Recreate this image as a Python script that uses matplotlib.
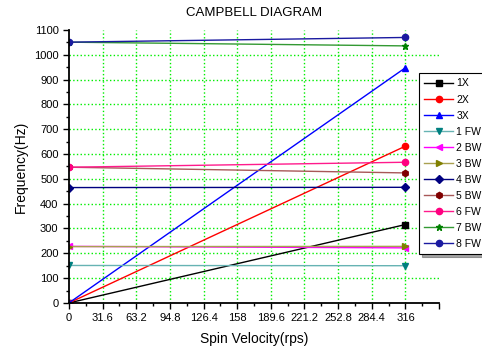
import numpy as np
import matplotlib
matplotlib.use('Agg')
import matplotlib.pyplot as plt

plt.rcParams['font.family'] = ['Liberation Sans', 'DejaVu Sans']

# Spin velocity (rps) end points
speed = [0, 316]

# Frequencies (Hz) at each end point
f_1x = [0, 316]
f_2x = [0, 632]
f_3x = [0, 948]
f_1fw = [151, 150]
f_2bw = [228, 222]
f_3bw = [227, 228]
f_4bw = [465, 466]
f_5bw = [547, 524]
f_6fw = [547, 567]
f_7bw = [1051, 1036]
f_8fw = [1051, 1070]

x_tick_labels = ["0", "31.6", "63.2", "94.8", "126.4", "158", "189.6",
                 "221.2", "252.8", "284.4", "316"]

series = [
    ("1X", f_1x, "black", "black", "s"),
    ("2X", f_2x, "red", "red", "o"),
    ("3X", f_3x, "blue", "blue", "^"),
    ("1 FW", f_1fw, "#66b3b3", "#008080", "v"),
    ("2 BW", f_2bw, "magenta", "magenta", "<"),
    ("3 BW", f_3bw, "#a9a050", "#808000", ">"),
    ("4 BW", f_4bw, "#000080", "#000080", "D"),
    ("5 BW", f_5bw, "#a85858", "#800000", "h"),
    ("6 FW", f_6fw, "#ff1a8c", "#ff0080", "o"),
    ("7 BW", f_7bw, "#339933", "#008000", "*"),
    ("8 FW", f_8fw, "#1a1aa0", "#1a1aa0", "o"),
]

fig = plt.figure(figsize=(4.82, 3.49), dpi=100)
ax = fig.add_axes([0.143, 0.132, 0.768, 0.782])

for name, vals, lc, mc, mk in series:
    ax.plot(speed, vals, color=lc, lw=1, marker=mk, markersize=4.5,
            markerfacecolor=mc, markeredgecolor=mc, label=name)

ax.set_xlim(0, 347.6)
ax.set_ylim(0, 1100)

xt = np.arange(len(x_tick_labels)) * 31.6
ax.set_xticks(list(xt) + [347.6])
ax.set_xticklabels(x_tick_labels + [""])
ax.set_xticks(np.arange(1, 22, 2) * 15.8, minor=True)
ax.set_yticks(np.arange(0, 1101, 100))
ax.set_yticks(np.arange(50, 1100, 100), minor=True)

ax.tick_params(axis='both', which='major', direction='out', length=4,
               width=1, labelsize=8, colors='black')
ax.tick_params(axis='both', which='minor', direction='out', length=2.5, width=1)

for s in ['top', 'right']:
    ax.spines[s].set_visible(False)
for s in ['left', 'bottom']:
    ax.spines[s].set_linewidth(1.3)

# grid lines (skip the axis end and top)
for x in xt[1:]:
    ax.axvline(x, color='#00ee00', ls=':', lw=1, zorder=0)
for y in np.arange(100, 1001, 100):
    ax.axhline(y, color='#00ee00', ls=':', lw=1, zorder=0)

ax.set_xlabel("Spin Velocity(rps)", fontsize=10, labelpad=6)
ax.set_ylabel("Frequency(Hz)", fontsize=10)
ax.set_title("CAMPBELL DIAGRAM", fontsize=9.5, pad=10)

leg = ax.legend(loc='upper left', bbox_to_anchor=(0.869, 0.79),
                bbox_transform=fig.transFigure, fontsize=7.5,
                frameon=True, fancybox=False, shadow=True,
                edgecolor='black', framealpha=1, borderaxespad=0,
                handlelength=2.8, handletextpad=0.3, labelspacing=0.58,
                borderpad=0.5)
leg.get_frame().set_linewidth(0.8)

fig.savefig("out.png", dpi=100)
